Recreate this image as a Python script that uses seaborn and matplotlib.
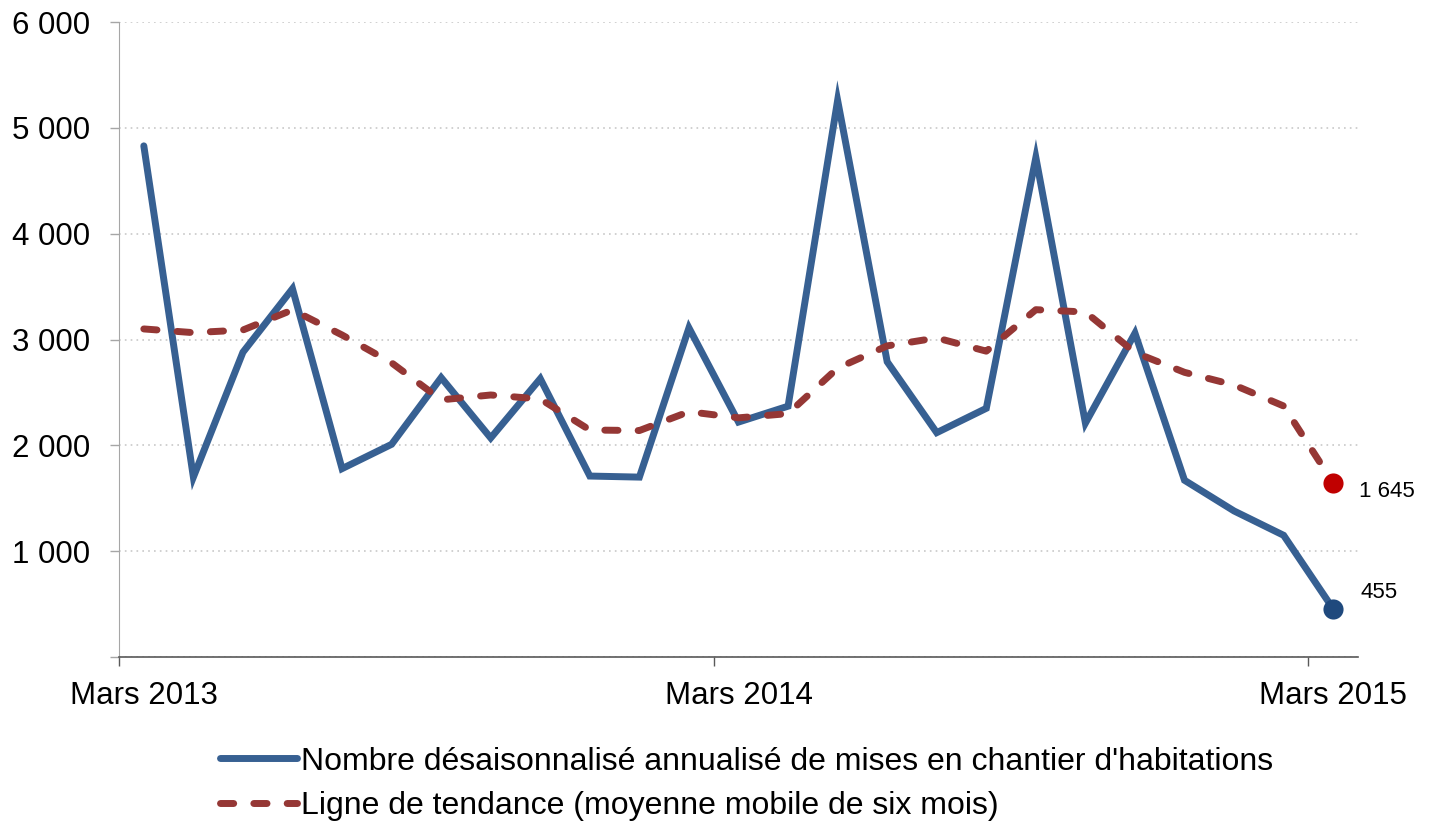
import numpy as np
import pandas as pd
import matplotlib
matplotlib.use("Agg")
import matplotlib.pyplot as plt
import seaborn as sns

## monthly values, March 2013 -> March 2015
months = list(range(25))
starts = [4830, 1700, 2880, 3480, 1780, 2010, 2640, 2070, 2630, 1710, 1700, 3110, 2220,
          2370, 5260, 2790, 2120, 2350, 4720, 2210, 3060, 1670, 1380, 1150, 455]
trend = [3100, 3065, 3090, 3280, 3043, 2780, 2430, 2476, 2438, 2145, 2140, 2318, 2260,
         2300, 2730, 2940, 3015, 2890, 3282, 3260, 2877, 2690, 2570, 2372, 1645]

tick_pos = [0, 12, 24]
tick_labels = ["Mars 2013", "Mars 2014", "Mars 2015"]
y_ticks = [0, 1000, 2000, 3000, 4000, 5000, 6000]
y_labels = ["", "1 000", "2 000", "3 000", "4 000", "5 000", "6 000"]
series_names = ["Nombre désaisonnalisé annualisé de mises en chantier d'habitations",
                "Ligne de tendance (moyenne mobile de six mois)"]
last_labels = ["455", "1 645"]

blue = "#376092"
red = "#953735"

data = pd.DataFrame({"Mois": months, "Mises": starts, "Tendance": trend})

sns.set_style("white")
plt.rcParams["font.family"] = ["Liberation Sans", "DejaVu Sans"]
plt.rcParams["text.color"] = "black"

fig = plt.figure(figsize=(14.29, 8.25), dpi=100)
ax = fig.add_axes([0.0833, 0.2036, 0.8670, 0.7697])

sns.lineplot(data=data, x="Mois", y="Mises", ax=ax, color=blue, lw=5,
             label=series_names[0], solid_joinstyle="miter", zorder=3)
sns.lineplot(data=data, x="Mois", y="Tendance", ax=ax, color=red, lw=5,
             label=series_names[1], linestyle=(0, (1.9, 2.9)),
             dash_capstyle="round", zorder=4)

## end points
sns.scatterplot(x=[months[-1]], y=[starts[-1]], ax=ax, color="#1F497D", s=210,
                linewidth=0, zorder=5)
sns.scatterplot(x=[months[-1]], y=[trend[-1]], ax=ax, color="#C00000", s=210,
                linewidth=0, zorder=5)
ax.annotate(last_labels[0], (months[-1], starts[-1]), xytext=(20, 12),
            textcoords="offset points", ha="left", va="center", fontsize=16)
ax.annotate(last_labels[1], (months[-1], trend[-1]), xytext=(18.5, -6),
            textcoords="offset points", ha="left", va="center", fontsize=16)

ax.set_xlim(-0.5, 24.5)
ax.set_ylim(0, 6000)
ax.set_xlabel("")
ax.set_ylabel("")

ax.set_yticks(y_ticks)
ax.set_yticklabels(y_labels)
ax.tick_params(axis="y", length=6.5, width=1, color="#A6A6A6", pad=14.5,
               labelsize=22.5, labelcolor="black", left=True)

ax.set_xticks([-0.5, 11.5, 23.5])
ax.set_xticklabels(["", "", ""])
ax.set_xticks(tick_pos, minor=True)
ax.set_xticklabels(tick_labels, minor=True)
ax.tick_params(axis="x", which="major", length=6.5, width=1, color="#595959", bottom=True)
ax.tick_params(axis="x", which="minor", length=0, pad=17, labelsize=22.5,
               labelcolor="black", bottom=True)

ax.yaxis.grid(True, linestyle=(0, (1, 2.5)), color="#C8C8C8", lw=1.2)
ax.xaxis.grid(False)
ax.set_axisbelow(True)

for s in ["top", "right"]:
    ax.spines[s].set_visible(False)
ax.spines["left"].set_color("#A6A6A6")
ax.spines["bottom"].set_color("#595959")
ax.spines["bottom"].set_linewidth(1.2)

handles, labels = ax.get_legend_handles_labels()
if ax.get_legend() is not None:
    ax.get_legend().remove()
fig.legend(handles[:2], labels[:2], loc="upper left", bbox_to_anchor=(0.154, 0.095),
           frameon=False, fontsize=23, handlelength=2.4, handletextpad=0.12,
           borderpad=0, borderaxespad=0, labelspacing=0.45)

fig.savefig("out.png", dpi=100)
